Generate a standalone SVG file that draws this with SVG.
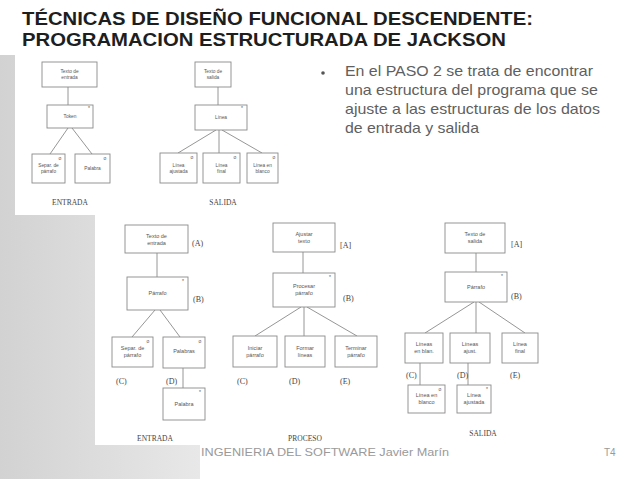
<svg xmlns="http://www.w3.org/2000/svg" width="640" height="479" viewBox="0 0 640 479">
<defs>
<linearGradient id="side" x1="0" y1="0" x2="1" y2="0">
<stop offset="0" stop-color="#d2d2d2"/>
<stop offset="1" stop-color="#e8e8e8"/>
</linearGradient>
</defs>
<style>
.box{fill:#fff;stroke:#8a8a8a;stroke-width:0.9}
.con{stroke:#8a8a8a;stroke-width:0.9;fill:none}
.bt{font-family:"Liberation Sans",Arial,sans-serif;font-size:5.5px;fill:#555;text-anchor:middle}
.st{font-family:"Liberation Sans",Arial,sans-serif;font-size:4.8px;fill:#555;text-anchor:middle}
.mk{font-family:"Liberation Sans",Arial,sans-serif;font-size:5px;fill:#555;text-anchor:middle}
.lab{font-family:"Liberation Serif","Times New Roman",serif;font-size:8px;fill:#444}
.cap{font-family:"Liberation Serif","Times New Roman",serif;font-size:7.5px;fill:#444;text-anchor:middle}
.title{font-family:"Liberation Sans",Arial,sans-serif;font-weight:bold;font-size:19px;fill:#1e1e1e}
.body{font-family:"Liberation Sans",Arial,sans-serif;font-size:14.5px;fill:#5f5f5f}
.foot{font-family:"Liberation Sans",Arial,sans-serif;font-size:10px;fill:#9a9a9a}
</style>
<rect width="640" height="479" fill="#fff"/>
<g id="background">
<rect x="0" y="55" width="200" height="424" fill="url(#side)"/>
<rect x="15" y="55" width="280" height="160" fill="#fff"/>
<rect x="95" y="215" width="470" height="230" fill="#fff"/>
</g>
<g id="title">
<text class="title" x="22" y="24.5" textLength="511" lengthAdjust="spacingAndGlyphs">TÉCNICAS DE DISEÑO FUNCIONAL DESCENDENTE:</text>
<text class="title" x="22" y="46" textLength="484" lengthAdjust="spacingAndGlyphs">PROGRAMACION ESTRUCTURADA DE JACKSON</text>
</g>
<g id="bullet">
<circle cx="323" cy="73" r="1.8" fill="#555"/>
<text class="body" x="345" y="76" textLength="248" lengthAdjust="spacingAndGlyphs">En el PASO 2 se trata de encontrar</text>
<text class="body" x="345" y="95" textLength="253" lengthAdjust="spacingAndGlyphs">una estructura del programa que se</text>
<text class="body" x="345" y="114" textLength="255" lengthAdjust="spacingAndGlyphs">ajuste a las estructuras de los datos</text>
<text class="body" x="345" y="133" textLength="134" lengthAdjust="spacingAndGlyphs">de entrada y salida</text>
</g>
<g id="connectors">
<line class="con" x1="68" y1="87" x2="68" y2="105"/>
<line class="con" x1="68" y1="128" x2="50" y2="154"/>
<line class="con" x1="72" y1="128" x2="92" y2="154"/>
<line class="con" x1="218" y1="87" x2="218" y2="105"/>
<line class="con" x1="216" y1="130" x2="178" y2="153"/>
<line class="con" x1="219" y1="130" x2="219" y2="153"/>
<line class="con" x1="222" y1="130" x2="262" y2="153"/>
<line class="con" x1="157" y1="253" x2="157" y2="277"/>
<line class="con" x1="155" y1="310" x2="132" y2="337"/>
<line class="con" x1="160" y1="310" x2="180" y2="337"/>
<line class="con" x1="183" y1="368" x2="183" y2="388"/>
<line class="con" x1="303" y1="252" x2="303" y2="273"/>
<line class="con" x1="301" y1="307" x2="255" y2="336"/>
<line class="con" x1="304" y1="307" x2="304" y2="336"/>
<line class="con" x1="307" y1="307" x2="357" y2="336"/>
<line class="con" x1="476" y1="253" x2="476" y2="272"/>
<line class="con" x1="474" y1="302" x2="425" y2="333"/>
<line class="con" x1="476" y1="302" x2="476" y2="333"/>
<line class="con" x1="479" y1="302" x2="525" y2="333"/>
<line class="con" x1="420" y1="363" x2="420" y2="385"/>
<line class="con" x1="468" y1="363" x2="468" y2="385"/>
</g>
<g id="top-entrada">
<g id="te-a"><rect class="box" x="42" y="62" width="55" height="25"/><text class="st" x="69.5" y="73">Texto de</text><text class="st" x="69.5" y="79">entrada</text></g>
<g id="te-b"><rect class="box" x="47" y="105" width="46" height="23"/><text class="st" x="70" y="118">Token</text><text class="mk" x="89" y="110">*</text></g>
<g id="te-c"><rect class="box" x="32" y="154" width="33" height="29"/><text class="st" x="48.5" y="167">Separ. de</text><text class="st" x="48.5" y="173">párrafo</text><text class="mk" x="60" y="160">o</text></g>
<g id="te-d"><rect class="box" x="75" y="154" width="35" height="29"/><text class="st" x="92.5" y="170">Palabra</text><text class="mk" x="105" y="160">o</text></g>
<text class="cap" x="70" y="205">ENTRADA</text>
</g>
<g id="top-salida">
<g id="ts-a"><rect class="box" x="195" y="62" width="36" height="25"/><text class="st" x="213" y="73">Texto de</text><text class="st" x="213" y="79">salida</text></g>
<g id="ts-b"><rect class="box" x="195" y="105" width="52" height="25"/><text class="st" x="221" y="119">Línea</text><text class="mk" x="242" y="110">*</text></g>
<g id="ts-c"><rect class="box" x="160" y="153" width="37" height="30"/><text class="st" x="178.5" y="167">Línea</text><text class="st" x="178.5" y="173">ajustada</text><text class="mk" x="192" y="159">o</text></g>
<g id="ts-d"><rect class="box" x="203" y="153" width="37" height="30"/><text class="st" x="221.5" y="167">Línea</text><text class="st" x="221.5" y="173">final</text><text class="mk" x="235" y="159">o</text></g>
<g id="ts-e"><rect class="box" x="247" y="153" width="31" height="30"/><text class="st" x="262.5" y="167">Línea en</text><text class="st" x="262.5" y="173">blanco</text><text class="mk" x="274" y="159">o</text></g>
<text class="cap" x="223" y="205">SALIDA</text>
</g>
<g id="entrada">
<g id="e-a"><rect class="box" x="125" y="225" width="63" height="28"/><text class="bt" x="156.5" y="238">Texto de</text><text class="bt" x="156.5" y="245">entrada</text><text class="lab" x="192" y="246">(A)</text></g>
<g id="e-b"><rect class="box" x="127" y="277" width="61" height="33"/><text class="bt" x="157.5" y="295">Párrafo</text><text class="mk" x="183" y="283">*</text><text class="lab" x="193" y="302">(B)</text></g>
<g id="e-c"><rect class="box" x="112" y="337" width="41" height="30"/><text class="bt" x="132.5" y="350">Separ. de</text><text class="bt" x="132.5" y="357">párrafo</text><text class="mk" x="148" y="343">o</text><text class="lab" x="116" y="384">(C)</text></g>
<g id="e-d"><rect class="box" x="163" y="337" width="42" height="31"/><text class="bt" x="184" y="353">Palabras</text><text class="mk" x="200" y="343">o</text><text class="lab" x="166" y="384">(D)</text></g>
<g id="e-e"><rect class="box" x="163" y="388" width="42" height="32"/><text class="bt" x="184" y="406">Palabra</text><text class="mk" x="200" y="394">*</text></g>
<text class="cap" x="155" y="441">ENTRADA</text>
</g>
<g id="proceso">
<g id="p-a"><rect class="box" x="273" y="223" width="62" height="29"/><text class="bt" x="304" y="236">Ajustar</text><text class="bt" x="304" y="243">texto</text><text class="lab" x="340" y="248">[A]</text></g>
<g id="p-b"><rect class="box" x="273" y="273" width="62" height="34"/><text class="bt" x="304" y="288">Procesar</text><text class="bt" x="304" y="295">párrafo</text><text class="mk" x="330" y="279">*</text><text class="lab" x="343" y="301">(B)</text></g>
<g id="p-c"><rect class="box" x="233" y="336" width="44" height="31"/><text class="bt" x="255" y="350">Iniciar</text><text class="bt" x="255" y="357">párrafo</text><text class="lab" x="237" y="384">(C)</text></g>
<g id="p-d"><rect class="box" x="285" y="336" width="40" height="31"/><text class="bt" x="305" y="350">Formar</text><text class="bt" x="305" y="357">líneas</text><text class="lab" x="289" y="384">(D)</text></g>
<g id="p-e"><rect class="box" x="335" y="336" width="42" height="31"/><text class="bt" x="356" y="350">Terminar</text><text class="bt" x="356" y="357">párrafo</text><text class="lab" x="340" y="384">(E)</text></g>
<text class="cap" x="305" y="441">PROCESO</text>
</g>
<g id="salida">
<g id="s-a"><rect class="box" x="445" y="223" width="60" height="30"/><text class="bt" x="475" y="236">Texto de</text><text class="bt" x="475" y="243">salida</text><text class="lab" x="511" y="247">[A]</text></g>
<g id="s-b"><rect class="box" x="445" y="272" width="62" height="30"/><text class="bt" x="476" y="289">Párrafo</text><text class="mk" x="502" y="278">*</text><text class="lab" x="511" y="299">(B)</text></g>
<g id="s-c"><rect class="box" x="405" y="333" width="38" height="30"/><text class="bt" x="424" y="346">Líneas</text><text class="bt" x="424" y="353">en blan.</text><text class="lab" x="406" y="378">(C)</text></g>
<g id="s-d"><rect class="box" x="450" y="333" width="40" height="30"/><text class="bt" x="470" y="346">Líneas</text><text class="bt" x="470" y="353">ajust.</text><text class="lab" x="457" y="378">(D)</text></g>
<g id="s-e"><rect class="box" x="502" y="333" width="36" height="30"/><text class="bt" x="520" y="346">Línea</text><text class="bt" x="520" y="353">final</text><text class="lab" x="510" y="378">(E)</text></g>
<g id="s-f"><rect class="box" x="408" y="385" width="37" height="28"/><text class="bt" x="426.5" y="397">Línea en</text><text class="bt" x="426.5" y="404">blanco</text><text class="mk" x="440" y="391">o</text></g>
<g id="s-g"><rect class="box" x="457" y="385" width="34" height="28"/><text class="bt" x="474" y="397">Línea</text><text class="bt" x="474" y="404">ajustada</text><text class="mk" x="487" y="391">*</text></g>
<text class="cap" x="483" y="436">SALIDA</text>
</g>
<g id="footer">
<text class="foot" x="201" y="456" textLength="248" lengthAdjust="spacingAndGlyphs">INGENIERIA DEL SOFTWARE Javier Marín</text>
<text class="foot" x="604" y="456">T4</text>
</g>
</svg>
